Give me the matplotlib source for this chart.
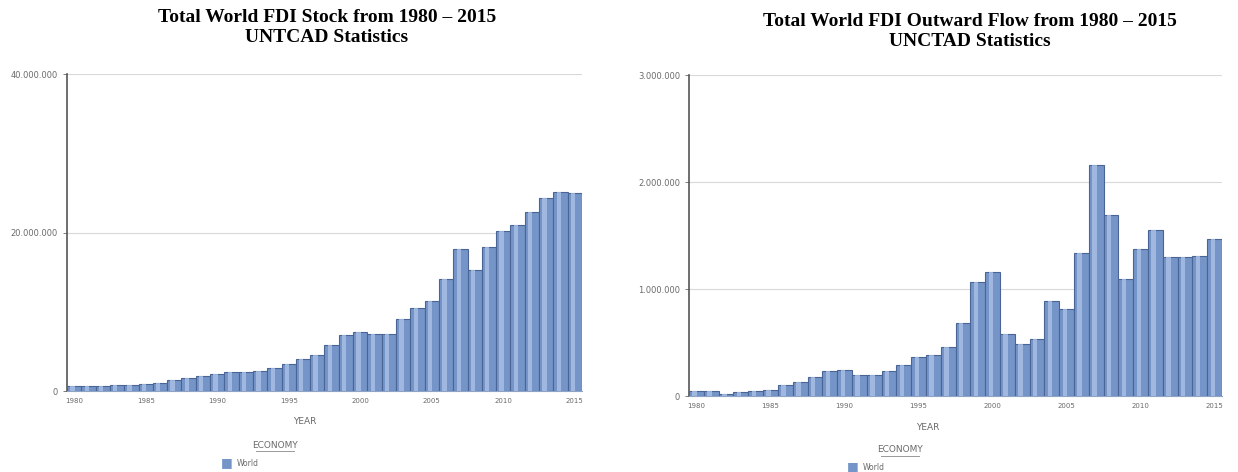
import matplotlib
matplotlib.use('Agg')
import matplotlib.pyplot as plt
from matplotlib.lines import Line2D
from matplotlib.ticker import FuncFormatter

# data (millions of US$)
years = list(range(1980, 2016))
fdi_stock = [0.60, 0.65, 0.68, 0.72, 0.78, 0.90, 1.05, 1.35, 1.65, 1.95,
             2.20, 2.35, 2.35, 2.55, 2.85, 3.45, 4.05, 4.60, 5.85, 7.05,
             7.40, 7.25, 7.25, 9.10, 10.5, 11.4, 14.1, 17.9, 15.3, 18.2,
             20.2, 20.9, 22.6, 24.4, 25.1, 25.0]
fdi_outflow = [0.05, 0.05, 0.02, 0.035, 0.045, 0.06, 0.10, 0.135, 0.18, 0.23,
               0.24, 0.20, 0.20, 0.23, 0.29, 0.36, 0.38, 0.46, 0.68, 1.07,
               1.16, 0.58, 0.49, 0.53, 0.89, 0.81, 1.34, 2.16, 1.69, 1.09,
               1.37, 1.55, 1.30, 1.30, 1.31, 1.47]
stock_ticks = [0, 20, 40]
flow_ticks = [0, 1, 2, 3]
year_ticks = [1980, 1985, 1990, 1995, 2000, 2005, 2010, 2015]

BAR = '#7595c8'
EDGE = '#4a6594'
HILITE = '#abc2e6'
GRAY = '#6a6a6a'
W, H = 1238, 472


def dotted(v, pos=None):
    return '{:,}'.format(int(round(v * 1e6))).replace(',', '.')


def fx(px):
    return px / W


def fy(py):
    return 1 - py / H


def draw_bars(ax, values, ymax, ticks):
    idx = list(range(len(values)))
    ax.bar(idx, values, width=1.0, color=BAR, edgecolor=EDGE, linewidth=0.8, zorder=3)
    ax.bar([i - 0.12 for i in idx], values, width=0.3, color=HILITE,
           linewidth=0, alpha=0.8, zorder=4)
    ax.set_xlim(-0.5, len(values) - 0.5)
    ax.set_ylim(0, ymax)
    ax.set_yticks(ticks)
    ax.yaxis.set_major_formatter(FuncFormatter(dotted))
    ax.set_xticks([years.index(y) for y in year_ticks])
    ax.set_xticklabels(year_ticks)
    ax.tick_params(axis='y', labelsize=6, colors=GRAY, length=3, width=0.6)
    ax.tick_params(axis='x', labelsize=5, colors=GRAY, length=0, pad=5)
    ax.grid(axis='y', color='#d8d8d8', linewidth=0.8, zorder=0)
    for s in ['top', 'right']:
        ax.spines[s].set_visible(False)
    ax.spines['left'].set_color('#555555')
    ax.spines['left'].set_linewidth(1.2)
    ax.spines['bottom'].set_color('#8fa3c4')


fig = plt.figure(figsize=(12.38, 4.72), dpi=100)

ax1 = fig.add_axes([0.0541, 0.1716, 0.416, 0.6716])
draw_bars(ax1, fdi_stock, 40, stock_ticks)
ax2 = fig.add_axes([0.5566, 0.161, 0.4305, 0.680])
draw_bars(ax2, fdi_outflow, 3, flow_ticks)

title_kw = dict(family='Liberation Serif', fontweight='bold', fontsize=14,
                ha='center', va='center', color='black')
fig.text(fx(327), fy(18), 'Total World FDI Stock from 1980 \u2013 2015', **title_kw)
fig.text(fx(327), fy(37), 'UNTCAD Statistics', **title_kw)
fig.text(fx(970), fy(22), 'Total World FDI Outward Flow from 1980 \u2013 2015', **title_kw)
fig.text(fx(970), fy(41), 'UNCTAD Statistics', **title_kw)

# axis label and legend block under each chart
blocks = [
    # year x, year y, economy x, economy y, square x, legend y
    (305, 422, 275, 445, 227, 463),
    (928, 428, 900, 450, 853, 467),
]
for yx, yy, ex, ey, sx, ly in blocks:
    fig.text(fx(yx), fy(yy), 'YEAR', fontsize=6.5, color=GRAY, ha='center', va='center')
    fig.text(fx(ex), fy(ey), 'ECONOMY', fontsize=6.5, color=GRAY, ha='center', va='center')
    fig.add_artist(Line2D([fx(ex - 19), fx(ex + 19)], [fy(ey + 6), fy(ey + 6)],
                          color='#999999', linewidth=0.7))
    fig.text(fx(sx), fy(ly), '\u25a0', fontsize=9, color=BAR, ha='center', va='center')
    fig.text(fx(sx + 10), fy(ly), 'World', fontsize=5.5, color=GRAY, ha='left', va='center')

fig.savefig('out.png', dpi=100)
